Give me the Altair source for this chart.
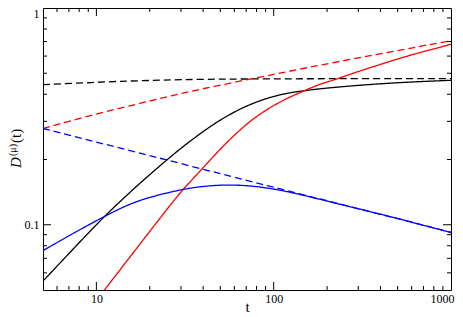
import altair as alt
import pandas as pd

# ---- data (log-log) ----
t_black_solid = [5, 7.7, 10.8, 13.6, 17.5, 24.4, 29.6, 45.6, 70.5, 108.6, 150, 200, 434, 1000]
v_black_solid = [0.055, 0.080, 0.107, 0.128, 0.155, 0.196, 0.224, 0.293, 0.358, 0.401, 0.416, 0.428, 0.451, 0.464]

t_black_dash = [5, 10, 13.6, 20, 29.6, 50, 100, 200, 500, 1000]
v_black_dash = [0.443, 0.454, 0.459, 0.463, 0.467, 0.470, 0.471, 0.472, 0.472, 0.472]

t_red_solid = [11.1, 24.4, 30.1, 39.3, 45.6, 70.5, 108.6, 150, 182, 217, 281, 434, 516, 668, 1000]
v_red_solid = [0.050, 0.115, 0.143, 0.180, 0.207, 0.298, 0.372, 0.416, 0.446, 0.464, 0.501, 0.561, 0.587, 0.623, 0.680]

t_red_dash = [5, 10, 18.4, 29.6, 50, 100, 182, 434, 1000]
v_red_dash = [0.278, 0.325, 0.366, 0.403, 0.441, 0.494, 0.545, 0.623, 0.707]

t_blue_solid = [5, 7.7, 10.8, 13.6, 18.3, 30.1, 38.4, 52, 70, 91, 108.6, 141, 182, 300, 500, 1000]
v_blue_solid = [0.076, 0.093, 0.108, 0.119, 0.132, 0.1455, 0.150, 0.153, 0.152, 0.148, 0.1445, 0.138, 0.131, 0.1186, 0.107, 0.092]

t_blue_dash = [5, 10, 20, 50, 100, 200, 500, 1000]
v_blue_dash = [0.278, 0.2406, 0.2085, 0.172, 0.149, 0.129, 0.1067, 0.0923]

series_names = ["black solid", "black dashed", "red solid", "red dashed", "blue solid", "blue dashed"]
series_colors = ["#000000", "#000000", "#ff0000", "#ff0000", "#0000ff", "#0000ff"]
series_dash = [[1, 0], [7, 4], [1, 0], [7, 4], [1, 0], [7, 4]]

x_labels = [10, 100, 1000]
y_labels = [0.1, 1]
x_major = [10, 100]
x_minor = [6, 7, 8, 9, 20, 30, 40, 50, 60, 70, 80, 90, 200, 300, 400, 500, 600, 700, 800, 900]
y_major = [0.1]
y_minor = [0.06, 0.07, 0.08, 0.09, 0.2, 0.3, 0.4, 0.5, 0.6, 0.7, 0.8, 0.9]

W, H = 408, 282
FONT = "Liberation Serif"

rows = []
for name, ts, vs in zip(series_names,
                        [t_black_solid, t_black_dash, t_red_solid, t_red_dash, t_blue_solid, t_blue_dash],
                        [v_black_solid, v_black_dash, v_red_solid, v_red_dash, v_blue_solid, v_blue_dash]):
    for t, v in zip(ts, vs):
        rows.append({"t": t, "v": v, "series": name})
df = pd.DataFrame(rows)

xscale = alt.Scale(type="log", domain=[5, 1000], nice=False)
yscale = alt.Scale(type="log", domain=[0.05, 1], nice=False)

xaxis = alt.Axis(values=x_labels, ticks=False, domain=False, grid=False,
                 labelFont=FONT, labelFontSize=12, labelPadding=3, labelColor="#000",
                 labelFlush=True, labelFlushOffset=3,
                 title="t", titleFont=FONT, titleFontSize=15, titleFontWeight="normal",
                 titleBaseline="alphabetic", titlePadding=7, titleColor="#000", format="~g")
yaxis = alt.Axis(values=y_labels, ticks=False, domain=False, grid=False,
                 labelFont=FONT, labelFontSize=12, labelPadding=4, labelColor="#000",
                 labelFlush=True,
                 title=None, format="~g")

lines = alt.Chart(df).mark_line(strokeWidth=1.3, interpolate="basis", clip=True).encode(
    x=alt.X("t:Q", scale=xscale, axis=xaxis),
    y=alt.Y("v:Q", scale=yscale, axis=yaxis),
    color=alt.Color("series:N", scale=alt.Scale(domain=series_names, range=series_colors), legend=None),
    strokeDash=alt.StrokeDash("series:N", scale=alt.Scale(domain=series_names, range=series_dash), legend=None),
    detail="series:N",
)


def xticks(vals, L):
    d = pd.DataFrame({"t": vals})
    bot = alt.Chart(d).mark_rule(color="#000", strokeWidth=1).encode(
        x=alt.X("t:Q", scale=xscale, axis=xaxis), y=alt.value(H), y2=alt.value(H - L))
    top = alt.Chart(d).mark_rule(color="#000", strokeWidth=1).encode(
        x=alt.X("t:Q", scale=xscale, axis=xaxis), y=alt.value(0), y2=alt.value(L))
    return [bot, top]


def yticks(vals, L):
    d = pd.DataFrame({"v": vals})
    left = alt.Chart(d).mark_rule(color="#000", strokeWidth=1).encode(
        y=alt.Y("v:Q", scale=yscale, axis=yaxis), x=alt.value(0), x2=alt.value(L))
    right = alt.Chart(d).mark_rule(color="#000", strokeWidth=1).encode(
        y=alt.Y("v:Q", scale=yscale, axis=yaxis), x=alt.value(W), x2=alt.value(W - L))
    return [left, right]


def label(txt, x, y, size, style="normal"):
    return alt.Chart(pd.DataFrame({"s": [txt]})).mark_text(
        font=FONT, fontSize=size, fontStyle=style, angle=270, align="left",
        baseline="alphabetic", color="#000").encode(
        text="s:N", x=alt.value(x), y=alt.value(y))


ytitle = [
    label("D", -22, 160, 15, "italic"),
    label("(\u03bc)", -27, 148, 10),
    label("(t)", -22, 135, 15),
]

layers = [lines] + xticks(x_major, 8) + xticks(x_minor, 4) + yticks(y_major, 8) + yticks(y_minor, 4) + ytitle

chart = alt.layer(*layers).properties(
    width=W, height=H,
    autosize=alt.AutoSizeParams(type="none"),
    padding={"left": 35, "top": 0, "right": 4, "bottom": 27},
).configure_view(stroke="#000", strokeWidth=1)

chart.save("out.html", embed_options={"renderer": "svg", "actions": False})
